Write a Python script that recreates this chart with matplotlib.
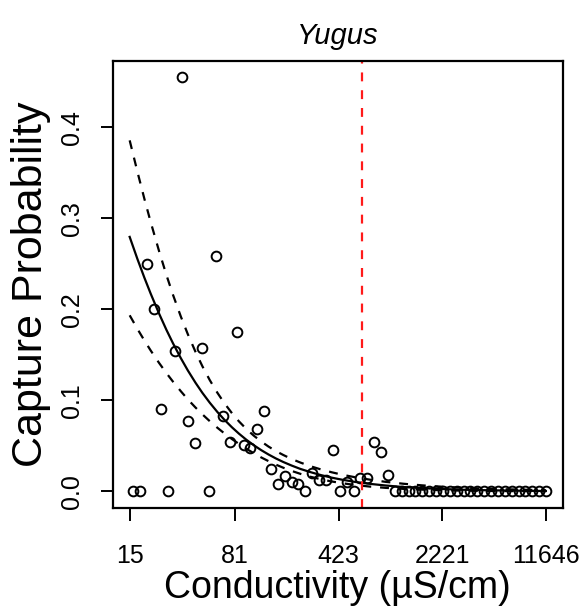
import matplotlib
matplotlib.use('Agg')
import matplotlib.pyplot as plt

plt.rcParams['font.family'] = ['Liberation Sans', 'DejaVu Sans']

# observed capture probability per conductivity bin
conductivity = [15.9, 17.8, 19.9, 22.2, 24.7, 27.6, 30.8, 34.4, 38.4, 42.9,
                47.9, 53.4, 59.6, 66.6, 74.3, 83.0, 92.6, 103, 115, 129,
                144, 160, 179, 200, 223, 249, 278, 310, 346, 387,
                432, 482, 538, 600, 670, 748, 835, 932, 1040, 1161,
                1296, 1447, 1615, 1803, 2012, 2246, 2507, 2799, 3124, 3487,
                3893, 4346, 4851, 5415, 6044, 6746, 7531, 8406, 9385, 10474,
                11646]
capture = [0.0, 0.0, 0.250, 0.200, 0.091, 0.0, 0.154, 0.455, 0.077, 0.053,
           0.158, 0.0, 0.258, 0.083, 0.054, 0.175, 0.051, 0.048, 0.069, 0.088,
           0.025, 0.008, 0.017, 0.010, 0.008, 0.0, 0.020, 0.013, 0.012, 0.046,
           0.0, 0.010, 0.0, 0.015, 0.015, 0.054, 0.043, 0.018, 0.0, 0.0,
           0.0, 0.0, 0.0, 0.0, 0.0, 0.0, 0.0, 0.0, 0.0, 0.0,
           0.0, 0.0, 0.0, 0.0, 0.0, 0.0, 0.0, 0.0, 0.0, 0.0,
           0.0]

# fitted curve with confidence band
fit_x = [15, 17, 19, 21, 24, 27, 30, 34, 38, 43, 48, 54, 61, 68, 77, 86, 97,
         109, 123, 138, 155, 175, 200, 230, 270, 320, 380, 450, 550, 700,
         900, 1200, 1600, 2200, 3000, 4200, 6000, 8500, 11646]
fit_mid = [0.2795, 0.2550, 0.2345, 0.2171, 0.1953, 0.1774, 0.1626, 0.1463,
           0.1329, 0.1193, 0.1082, 0.0974, 0.0872, 0.0789, 0.0704, 0.0635,
           0.0567, 0.0508, 0.0453, 0.0406, 0.0363, 0.0323, 0.0284, 0.0247,
           0.0212, 0.0179, 0.0151, 0.0128, 0.0105, 0.0083, 0.0065, 0.0048,
           0.0036, 0.0027, 0.0019, 0.0014, 0.0010, 0.0007, 0.0005]
fit_hi = [0.3855, 0.3507, 0.3210, 0.2957, 0.2639, 0.2376, 0.2158, 0.1920,
          0.1727, 0.1532, 0.1374, 0.1222, 0.1083, 0.0972, 0.0859, 0.0770,
          0.0685, 0.0613, 0.0548, 0.0493, 0.0444, 0.0400, 0.0356, 0.0317,
          0.0277, 0.0241, 0.0210, 0.0183, 0.0156, 0.0129, 0.0105, 0.0084,
          0.0067, 0.0052, 0.0041, 0.0031, 0.0024, 0.0018, 0.0014]
fit_lo = [0.1934, 0.1783, 0.1656, 0.1547, 0.1411, 0.1299, 0.1205, 0.1100,
          0.1011, 0.0921, 0.0846, 0.0771, 0.0699, 0.0639, 0.0575, 0.0522,
          0.0468, 0.0420, 0.0373, 0.0333, 0.0295, 0.0260, 0.0225, 0.0193,
          0.0161, 0.0133, 0.0109, 0.0090, 0.0071, 0.0053, 0.0039, 0.0028,
          0.0020, 0.0013, 0.0009, 0.0006, 0.0004, 0.0003, 0.0002]

threshold = 617
x_ticks = [15, 81, 423, 2221, 11646]
y_ticks = [0.0, 0.1, 0.2, 0.3, 0.4]

fig = plt.figure(figsize=(5.84, 6.09), dpi=100)
ax = fig.add_axes([113 / 584, 1 - 508 / 609, 449.5 / 584, 447.5 / 609])

ax.plot(conductivity, capture, 'o', mfc='none', mec='black', ms=7, mew=1.4)
ax.plot(fit_x, fit_mid, color='black', lw=1.6)
ax.plot(fit_x, fit_hi, color='black', lw=1.6, ls=(0, (4, 4)))
ax.plot(fit_x, fit_lo, color='black', lw=1.6, ls=(0, (4, 4)))
ax.axvline(threshold, color='#ff1a1a', lw=1.6, ls=(0, (4, 4)))

ax.set_xscale('log')
ax.set_xlim(11.49, 15199)
ax.set_ylim(-0.0182, 0.4732)
ax.minorticks_off()
ax.set_xticks(x_ticks)
ax.set_xticklabels([str(t) for t in x_ticks])
ax.set_yticks(y_ticks)
ax.set_yticklabels(['%.1f' % t for t in y_ticks], rotation=90, va='center')
ax.tick_params(labelsize=18, length=9, width=1.4)
ax.tick_params(axis='x', pad=17)
ax.tick_params(axis='y', pad=12)

for s in ax.spines.values():
    s.set_linewidth(1.6)

ax.set_xlabel('Conductivity (µS/cm)', fontsize=27, labelpad=1)
ax.set_ylabel('Capture Probability', fontsize=31)
ax.yaxis.set_label_coords(-0.139, 0.5)
ax.set_title('Yugus', fontsize=21, style='italic', pad=12)

fig.savefig('out.png', dpi=100)
